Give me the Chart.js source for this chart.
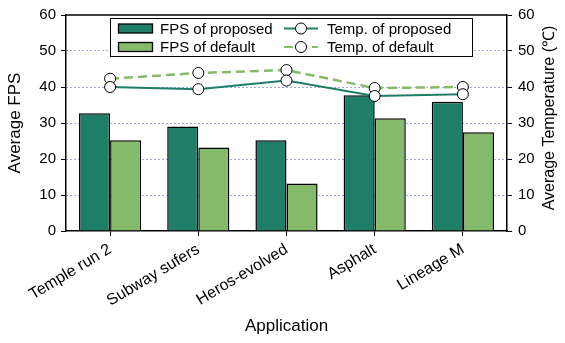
<!DOCTYPE html>
<html>
<head>
<meta charset="utf-8">
<script src="https://cdn.jsdelivr.net/npm/chart.js@4.4.1/dist/chart.umd.min.js"></script>
<style>
  html, body { margin: 0; padding: 0; background: #fff; }
  #wrap { width: 565px; height: 343px; }
</style>
</head>
<body>
<div id="wrap"><canvas id="myChart"></canvas></div>
<script>
const apps = ['Temple run 2', 'Subway sufers', 'Heros-evolved', 'Asphalt', 'Lineage M'];
const fpsProposed = [32.7, 29.0, 25.2, 37.7, 35.9];
const fpsDefault = [25.2, 23.2, 13.2, 31.3, 27.4];
const tempProposed = [40.0, 39.4, 41.8, 37.5, 38.0];
const tempDefault = [42.3, 43.9, 44.7, 39.7, 40.0];

const darkGreen = 'rgb(31, 126, 103)';
const lightGreen = 'rgb(132, 187, 106)';
const gridBlue = 'rgb(70, 80, 200)';
const fontFamily = "'Liberation Sans', Arial, sans-serif";

Chart.defaults.font.family = fontFamily;
Chart.defaults.color = '#000';

// legend drawn as a framed two-column box inside the plot
const legendBox = {
  id: 'legendBox',
  afterDatasetsDraw(chart) {
    const ctx = chart.ctx;
    const ds = chart.data.datasets;
    ctx.save();
    ctx.fillStyle = '#fff';
    ctx.strokeStyle = '#000';
    ctx.lineWidth = 1;
    ctx.fillRect(110.5, 18.5, 362, 38);
    ctx.strokeRect(110.5, 18.5, 362, 38);

    ctx.font = '15px ' + fontFamily;
    ctx.textBaseline = 'middle';
    ctx.textAlign = 'left';
    const rows = [28.5, 47];

    // bar entries
    [0, 1].forEach((i, r) => {
      const y = rows[r];
      ctx.fillStyle = ds[i].backgroundColor;
      ctx.fillRect(118.5, y - 4.5, 34, 9);
      ctx.lineWidth = 1.3;
      ctx.strokeStyle = '#000';
      ctx.strokeRect(118.5, y - 4.5, 34, 9);
      ctx.fillStyle = '#000';
      ctx.fillText(ds[i].label, 160, y + 1);
    });

    // line entries
    [2, 3].forEach((i, r) => {
      const y = rows[r];
      ctx.strokeStyle = ds[i].borderColor;
      ctx.lineWidth = 2;
      ctx.setLineDash(ds[i].borderDash || []);
      ctx.beginPath();
      ctx.moveTo(284, y);
      ctx.lineTo(318, y);
      ctx.stroke();
      ctx.setLineDash([]);
      ctx.beginPath();
      ctx.arc(301, y, 5.5, 0, Math.PI * 2);
      ctx.fillStyle = '#fff';
      ctx.fill();
      ctx.strokeStyle = '#000';
      ctx.lineWidth = 1;
      ctx.stroke();
      ctx.fillStyle = '#000';
      ctx.fillText(ds[i].label, 327, y + 1);
    });
    ctx.restore();
  }
};

// top edge of the frame and the right-hand axis title
const frameAndTitle = {
  id: 'frameAndTitle',
  afterDraw(chart) {
    const {ctx, chartArea} = chart;
    ctx.save();
    ctx.strokeStyle = '#000';
    ctx.lineWidth = 1.5;
    ctx.beginPath();
    ctx.moveTo(chartArea.left, chartArea.top);
    ctx.lineTo(chartArea.right, chartArea.top);
    ctx.stroke();

    ctx.translate(550, 118);
    ctx.rotate(-Math.PI / 2);
    ctx.font = '16px ' + fontFamily;
    ctx.fillStyle = '#000';
    ctx.textAlign = 'center';
    ctx.textBaseline = 'middle';
    ctx.fillText('Average Temperature (\u2103)', 0, 0);
    ctx.restore();
  }
};

const data = {
  labels: apps,
  datasets: [
    {
      type: 'bar',
      label: 'FPS of proposed',
      data: fpsProposed,
      backgroundColor: darkGreen,
      borderColor: '#000',
      borderWidth: 1.5,
      barPercentage: 1,
      categoryPercentage: 0.705,
      yAxisID: 'y',
      order: 1
    },
    {
      type: 'bar',
      label: 'FPS of default',
      data: fpsDefault,
      backgroundColor: lightGreen,
      borderColor: '#000',
      borderWidth: 1.5,
      barPercentage: 1,
      categoryPercentage: 0.705,
      yAxisID: 'y',
      order: 1
    },
    {
      type: 'line',
      label: 'Temp. of proposed',
      data: tempProposed,
      borderColor: darkGreen,
      borderWidth: 2,
      pointRadius: 5.5,
      pointBackgroundColor: '#fff',
      pointBorderColor: '#000',
      pointBorderWidth: 1,
      tension: 0,
      yAxisID: 'y1',
      order: 0
    },
    {
      type: 'line',
      label: 'Temp. of default',
      data: tempDefault,
      borderColor: lightGreen,
      borderWidth: 2.5,
      borderDash: [9, 5],
      pointRadius: 5.5,
      pointBackgroundColor: '#fff',
      pointBorderColor: '#000',
      pointBorderWidth: 1,
      tension: 0,
      yAxisID: 'y1',
      order: 0
    }
  ]
};

const config = {
  type: 'bar',
  data: data,
  options: {
    responsive: true,
    maintainAspectRatio: false,
    animation: false,
    layout: { padding: { top: 12, left: 0, right: 0, bottom: 0 } },
    plugins: {
      legend: { display: false },
      tooltip: { enabled: false }
    },
    scales: {
      x: {
        offset: true,
        afterFit: (scale) => { scale.height = 112; },
        grid: {
          offset: false,
          drawOnChartArea: false,
          tickLength: 5,
          tickColor: '#000',
          tickWidth: 1
        },
        border: { color: '#000', width: 1.5 },
        ticks: {
          autoSkip: false,
          minRotation: 31,
          maxRotation: 31,
          padding: 4,
          font: { size: 16 }
        },
        title: {
          display: true,
          text: 'Application',
          font: { size: 17 },
          padding: { top: 0, bottom: 6 }
        }
      },
      y: {
        position: 'left',
        min: 0,
        max: 60,
        afterFit: (scale) => { scale.width = 66; },
        grid: {
          color: (c) => (c.tick && (c.tick.value === 0 || c.tick.value === 60)) ? 'rgba(0,0,0,0)' : gridBlue,
          lineWidth: 1,
          tickLength: 5,
          tickColor: '#000',
          tickWidth: 1
        },
        border: { color: '#000', width: 1.5, dash: [1, 3] },
        ticks: { stepSize: 10, padding: 5, font: { size: 15 } },
        title: {
          display: true,
          text: 'Average FPS',
          font: { size: 17 },
          padding: { top: 5, bottom: 0 }
        }
      },
      y1: {
        position: 'right',
        min: 0,
        max: 60,
        afterFit: (scale) => { scale.width = 58; },
        grid: {
          drawOnChartArea: false,
          tickLength: 5,
          tickColor: '#000',
          tickWidth: 1
        },
        border: { color: '#000', width: 1.5 },
        ticks: { stepSize: 10, padding: 6, font: { size: 15 } },
        title: { display: false }
      }
    }
  },
  plugins: [legendBox, frameAndTitle]
};

const myChart = new Chart(document.getElementById('myChart'), config);
</script>
</body>
</html>
